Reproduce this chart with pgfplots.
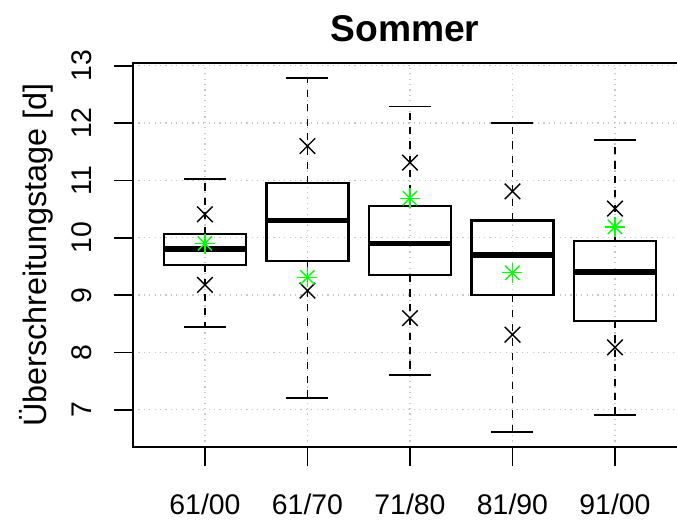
\documentclass[border=0pt]{standalone}
\usepackage{pgfplots}
\pgfplotsset{compat=1.18}
\usepackage{fontspec}
\setmainfont{Liberation Sans}
\definecolor{rgreen}{RGB}{0,255,0}
\begin{document}
\begin{tikzpicture}
\useasboundingbox (-66.5pt,-37pt) rectangle (272pt,223.5pt);
\begin{axis}[
  at={(0,0)}, anchor=south west,
  scale only axis, width=272pt, height=192pt,
  xmin=0.298, xmax=5.605, ymin=6.352, ymax=13.048,
  clip=false,
  axis line style={draw=none},
  xtick={1,2,3,4,5},
  xticklabels={61/00,61/70,71/80,81/90,91/00},
  ytick={7,8,9,10,11,12,13},
  xtick pos=lower, ytick pos=left,
  tick align=outside, major tick length=9.5pt,
  tick style={line width=0.9pt, black},
  grid=major,
  major grid style={line width=0.65pt, color=black!22, dash pattern=on 0.65pt off 2.05pt},
  ticklabel style={font=\fontsize{14.2}{16}\selectfont},
  /pgf/number format/assume math mode=true,
  yticklabel style={xshift=-11pt, rotate=90, anchor=base, inner sep=0pt},
  xticklabel style={yshift=-24pt, anchor=base, inner sep=0pt},
  ylabel={Überschreitungstage [d]},
  ylabel style={at={(axis description cs:-0.1783,0.5)}, anchor=center, font=\fontsize{16.2}{18}\selectfont},
  title={Sommer},
  title style={at={(axis description cs:0.5,1)}, anchor=base, yshift=4.5pt, font=\bfseries\fontsize{18.6}{20}\selectfont},
  unbounded coords=jump,
]
% boxes (lower quartile to upper quartile)
\addplot[black, line width=1.1pt, line cap=rect, mark=none] coordinates {
 (0.6,9.53)(1.4,9.53)(1.4,10.07)(0.6,10.07)(0.6,9.53) (nan,nan)
 (1.6,9.60)(2.4,9.60)(2.4,10.95)(1.6,10.95)(1.6,9.60) (nan,nan)
 (2.6,9.35)(3.4,9.35)(3.4,10.55)(2.6,10.55)(2.6,9.35) (nan,nan)
 (3.6,9.00)(4.4,9.00)(4.4,10.30)(3.6,10.30)(3.6,9.00) (nan,nan)
 (4.6,8.55)(5.4,8.55)(5.4,9.95)(4.6,9.95)(4.6,8.55)};
% medians
\addplot[black, line width=2.9pt, mark=none] coordinates {
 (0.6,9.81)(1.4,9.81) (nan,nan)
 (1.6,10.30)(2.4,10.30) (nan,nan)
 (2.6,9.90)(3.4,9.90) (nan,nan)
 (3.6,9.70)(4.4,9.70) (nan,nan)
 (4.6,9.40)(5.4,9.40)};
% whiskers (dashed)
\addplot[black, line width=0.9pt, dash pattern=on 3.6pt off 3.6pt, mark=none] coordinates {
 (1,10.07)(1,11.03) (nan,nan) (1,9.53)(1,8.44) (nan,nan)
 (2,10.95)(2,12.79) (nan,nan) (2,9.60)(2,7.21) (nan,nan)
 (3,10.55)(3,12.29) (nan,nan) (3,9.35)(3,7.61) (nan,nan)
 (4,10.30)(4,12.00) (nan,nan) (4,9.00)(4,6.61) (nan,nan)
 (5,9.95)(5,11.70) (nan,nan) (5,8.55)(5,6.91)};
% whisker caps
\addplot[black, line width=0.95pt, mark=none] coordinates {
 (0.795,11.03)(1.205,11.03) (nan,nan) (0.795,8.44)(1.205,8.44) (nan,nan)
 (1.795,12.79)(2.205,12.79) (nan,nan) (1.795,7.21)(2.205,7.21) (nan,nan)
 (2.795,12.29)(3.205,12.29) (nan,nan) (2.795,7.61)(3.205,7.61) (nan,nan)
 (3.795,12.00)(4.205,12.00) (nan,nan) (3.795,6.61)(4.205,6.61) (nan,nan)
 (4.795,11.70)(5.205,11.70) (nan,nan) (4.795,6.91)(5.205,6.91)};
% black crosses
\addplot[only marks, mark=x, mark size=5.5pt, black, line width=0.7pt] coordinates {(1,10.41)(1,9.18)(2,11.60)(2,9.08)(3,11.31)(3,8.60)(4,10.81)(4,8.31)(5,10.51)(5,8.09)};
% green asterisks
\addplot[only marks, mark=+, mark size=5pt, rgreen, line width=0.7pt] coordinates {(1,9.90)(2,9.31)(3,10.69)(4,9.39)(5,10.19)};
\addplot[only marks, mark=x, mark size=5pt, rgreen, line width=0.7pt] coordinates {(1,9.90)(2,9.31)(3,10.69)(4,9.39)(5,10.19)};
\draw[black, line width=1pt] (rel axis cs:1,1) -- (rel axis cs:0,1) -- (rel axis cs:0,0) -- (rel axis cs:1,0);
\end{axis}
\end{tikzpicture}
\end{document}
